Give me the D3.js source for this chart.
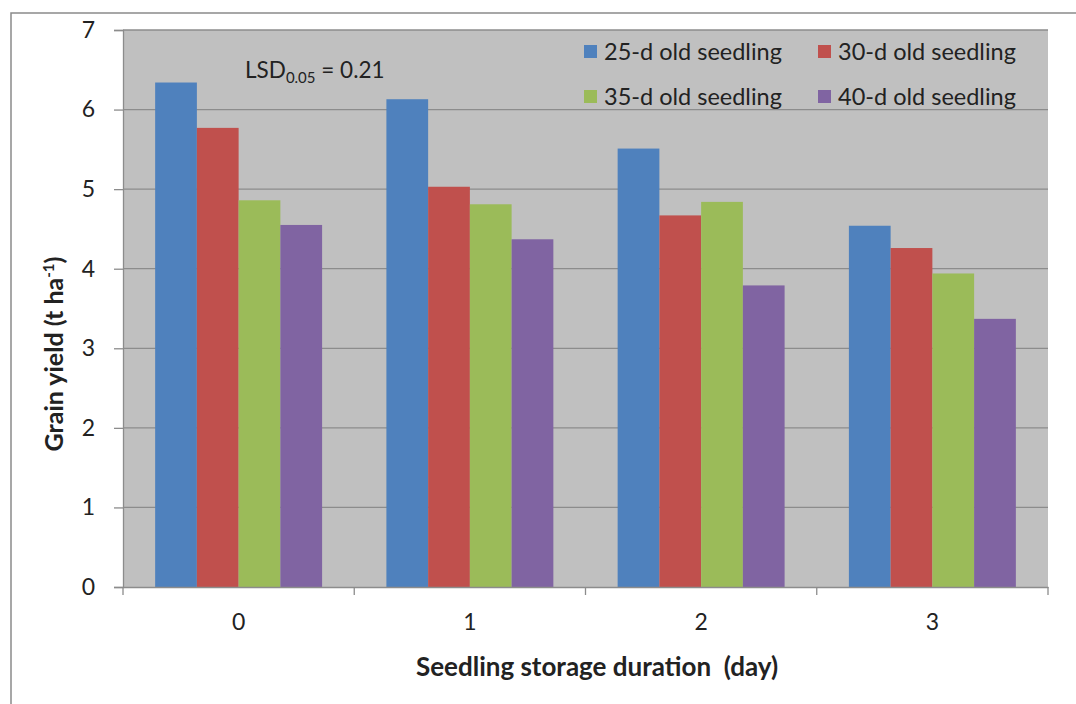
<!DOCTYPE html>
<html><head><meta charset="utf-8">
<script src="https://cdn.jsdelivr.net/npm/d3@7"></script>
<style>
body{margin:0;background:#fff;}
svg{display:block;}
text{font-family:Lato,"Open Sans",sans-serif;fill:#222;}
</style></head><body>
<script>
const categories = ["0","1","2","3"];
const seriesNames = ["25-d old seedling","30-d old seedling","35-d old seedling","40-d old seedling"];
const s25 = [6.34, 6.13, 5.51, 4.54];
const s30 = [5.77, 5.03, 4.67, 4.26];
const s35 = [4.86, 4.81, 4.84, 3.94];
const s40 = [4.55, 4.37, 3.79, 3.37];
const yTicks = [0,1,2,3,4,5,6,7];
const colors = ["#4f81bd","#c0504d","#9bbb59","#8064a2"];

const seriesValues = [s25, s30, s35, s40];
const W = 1076, H = 704;
const m = {left:123, right:1048, top:30, bottom:587};

const svg = d3.select("body").append("svg").attr("width",W).attr("height",H);

// outer frame
svg.append("rect").attr("x",11).attr("y",13).attr("width",1200).attr("height",1000)
  .attr("fill","none").attr("stroke","#8a8a8a").attr("stroke-width",1.5);

const y = d3.scaleLinear().domain([0,7]).range([m.bottom, m.top]);
const x0 = d3.scaleBand().domain(categories).range([m.left, m.right]).padding(0);
const x1 = d3.scaleBand().domain(seriesNames).range([0, x0.bandwidth()]).paddingInner(0).paddingOuter(0.77);

// plot background
svg.append("rect").attr("x",m.left).attr("y",m.top).attr("width",m.right-m.left).attr("height",m.bottom-m.top)
  .attr("fill","#c0c0c0");

// gridlines
svg.append("g").selectAll("line").data(yTicks.filter(d=>d>0)).join("line")
  .attr("x1",m.left).attr("x2",m.right).attr("y1",d=>y(d)).attr("y2",d=>y(d))
  .attr("stroke","#8c8c8c").attr("stroke-width",1.3);

// bars
const g = svg.append("g");
categories.forEach((c,ci)=>{
  seriesNames.forEach((s,si)=>{
    g.append("rect")
      .attr("x", x0(c)+x1(s))
      .attr("y", y(seriesValues[si][ci]))
      .attr("width", x1.bandwidth())
      .attr("height", y(0)-y(seriesValues[si][ci]))
      .attr("fill", colors[si]);
  });
});

// y axis
const yAxis = d3.axisLeft(y).tickValues(yTicks).tickSize(9).tickPadding(19).tickFormat(d3.format("d"));
const ya = svg.append("g").attr("transform",`translate(${m.left},0)`).call(yAxis);
ya.select(".domain").attr("stroke","#8c8c8c").attr("stroke-width",1.3);
ya.selectAll(".tick line").attr("stroke","#8c8c8c").attr("stroke-width",1.3);
ya.selectAll(".tick text").attr("font-size",23).attr("fill","#222").style("font-family","Lato, sans-serif");

// x axis
const xAxis = d3.axisBottom(x0).tickSize(0).tickPadding(27);
const xa = svg.append("g").attr("transform",`translate(0,${m.bottom})`).call(xAxis);
xa.select(".domain").attr("stroke","#8c8c8c").attr("stroke-width",1.3);
xa.selectAll(".tick text").attr("font-size",23).attr("fill","#222").style("font-family","Lato, sans-serif");
// category boundary ticks
const bounds = categories.map(c=>x0(c)).concat([x0(categories[categories.length-1])+x0.bandwidth()]);
svg.append("g").selectAll("line").data(bounds).join("line")
  .attr("x1",d=>d).attr("x2",d=>d).attr("y1",m.bottom).attr("y2",m.bottom+8)
  .attr("stroke","#8c8c8c").attr("stroke-width",1.3);

// axis titles
svg.append("text").attr("x",597).attr("y",676).attr("text-anchor","middle")
  .attr("font-size",26).attr("font-weight","bold").attr("fill","#333")
  .style("white-space","pre").text("Seedling storage duration  (day)");

const yt = svg.append("text").attr("transform","translate(63,354) rotate(-90)").attr("text-anchor","middle")
  .attr("font-size",25).attr("font-weight","bold").attr("fill","#333");
yt.append("tspan").text("Grain yield (t ha");
yt.append("tspan").attr("font-size",15).attr("dy",-9).text("-1");
yt.append("tspan").attr("dy",9).text(")");

// LSD annotation
const lsd = svg.append("text").attr("x",245).attr("y",78).attr("font-size",22.5).attr("fill","#333");
lsd.append("tspan").text("LSD");
lsd.append("tspan").attr("font-size",15).attr("dy",5).text("0.05");
lsd.append("tspan").attr("dy",-5).text(" = 0.21");

// legend
const legPos = [[584,52],[818,52],[584,97],[818,97]];
seriesNames.forEach((s,i)=>{
  const [lx,ly] = legPos[i];
  svg.append("rect").attr("x",lx).attr("y",ly-7).attr("width",13).attr("height",13).attr("fill",colors[i]);
  svg.append("text").attr("x",lx+20).attr("y",ly+8).attr("font-size",23.5).attr("fill","#333").text(s);
});
</script>
</body></html>
